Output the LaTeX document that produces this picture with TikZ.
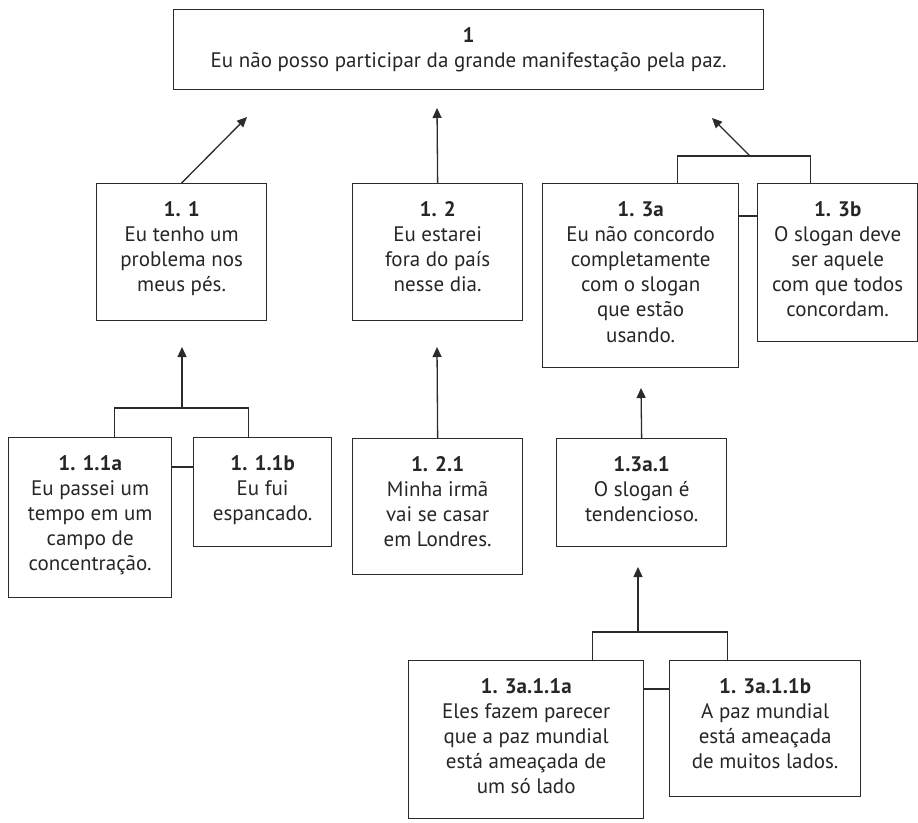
\documentclass[tikz,border=0pt]{standalone}
\usepackage{fontspec}
\setmainfont{PT Sans}
\usetikzlibrary{arrows.meta}
\definecolor{ink}{HTML}{2B2B2B}
\begin{document}
\begin{tikzpicture}[x=1pt,y=-1pt,
 box/.style={draw=ink, line width=1.3pt, rectangle, inner sep=0pt, anchor=north west},
 txt/.style={anchor=north, align=center, inner sep=0pt, font=\fontsize{21}{25.2}\selectfont, text=black!85, yshift=-18pt},
 link/.style={draw=ink, line width=1.3pt},
 arr/.style={link, -{Triangle[length=10pt,width=9pt]}}]
\useasboundingbox (0,0) rectangle (918,822);
% boxes
\node[box, minimum width=590pt, minimum height=80pt] (top) at (173,9) {};
\node[box, minimum width=170pt, minimum height=137pt] (n11) at (96,183) {};
\node[box, minimum width=170pt, minimum height=137pt] (n12) at (352,183) {};
\node[box, minimum width=196pt, minimum height=184pt] (n13a) at (542,183) {};
\node[box, minimum width=160pt, minimum height=158pt] (n13b) at (757,183) {};
\node[box, minimum width=163pt, minimum height=160pt] (n111a) at (8,437) {};
\node[box, minimum width=138pt, minimum height=109pt] (n111b) at (193,437) {};
\node[box, minimum width=170pt, minimum height=136pt] (n121) at (352,438) {};
\node[box, minimum width=170pt, minimum height=108pt] (n13a1) at (556,438) {};
\node[box, minimum width=235pt, minimum height=158pt] (n13a11a) at (408,660) {};
\node[box, minimum width=191pt, minimum height=136pt] (n13a11b) at (669,660) {};
% texts
\node[txt] (ttop) at (top.north) {\textbf{1}\\Eu não posso participar da grande manifestação pela paz.};
\node[txt] (t11) at (n11.north) {\textbf{1. 1}\\Eu tenho um\\problema nos\\meus pés.};
\node[txt] (t12) at (n12.north) {\textbf{1. 2}\\Eu estarei\\fora do país\\nesse dia.};
\node[txt] (t13a) at (n13a.north) {\textbf{1. 3a}\\Eu não concordo\\completamente\\com o slogan\\que estão\\usando.};
\node[txt] (t13b) at (n13b.north) {\textbf{1. 3b}\\O slogan deve\\ser aquele\\com que todos\\concordam.};
\node[txt] (t111a) at (n111a.north) {\textbf{1. 1.1a}\\Eu passei um\\tempo em um\\campo de\\concentração.};
\node[txt] (t111b) at (n111b.north) {\textbf{1. 1.1b}\\Eu fui\\espancado.};
\node[txt] (t121) at (n121.north) {\textbf{1. 2.1}\\Minha irmã\\vai se casar\\em Londres.};
\node[txt] (t13a1) at (n13a1.north) {\textbf{1.3a.1}\\O slogan é\\tendencioso.};
\node[txt] (t13a11a) at (n13a11a.north) {\textbf{1. 3a.1.1a}\\Eles fazem parecer\\que a paz mundial\\está ameaçada de\\um só lado};
\node[txt] (t13a11b) at (n13a11b.north) {\textbf{1. 3a.1.1b}\\A paz mundial\\está ameaçada\\de muitos lados.};
% connector points
\coordinate (a11) at (247,117);
\coordinate (a12) at (437,108);
\coordinate (j13) at (750,156);
\coordinate (a13) at (712,118);
\coordinate (j111) at (182,408);
\coordinate (a111) at (182,347);
\coordinate (a121) at (437,347);
\coordinate (a13a1) at (641,388);
\coordinate (j13a11) at (638,632);
\coordinate (a13a11) at (638,567);
% connectors
\draw[arr] (n11.north) -- (a11);
\draw[arr] (n12.north) -- (a12);
\draw[link] ([xshift=37pt]n13a.north) |- (j13) -| ([xshift=-27pt]n13b.north);
\draw[arr] (j13) -- (a13);
\draw[link] ([yshift=-33pt]n13a.north east) -- ([yshift=-33pt]n13b.north west);
\draw[link] ([xshift=24.5pt]n111a.north) |- (j111) -| ([xshift=-14pt]n111b.north);
\draw[arr] (j111) -- (a111);
\draw[link] ([yshift=-30pt]n111a.north east) -- ([yshift=-30pt]n111b.north west);
\draw[arr] (n121.north) -- (a121);
\draw[arr] (n13a1.north) -- (a13a1);
\draw[link] ([xshift=66.5pt]n13a11a.north) |- (j13a11) -| ([xshift=-37.5pt]n13a11b.north);
\draw[arr] (j13a11) -- (a13a11);
\draw[link] ([yshift=-29pt]n13a11a.north east) -- ([yshift=-29pt]n13a11b.north west);
\end{tikzpicture}
\end{document}
